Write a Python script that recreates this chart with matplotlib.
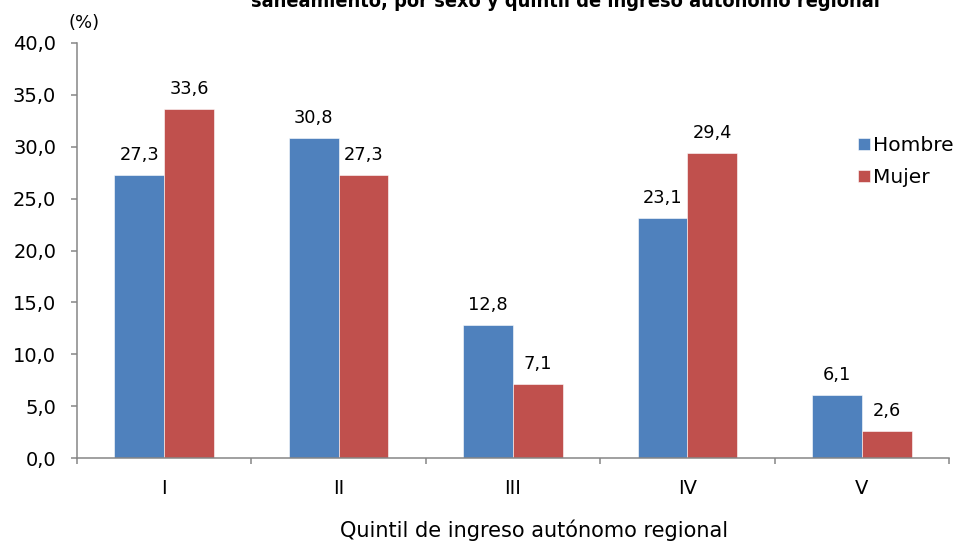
import numpy as np
import matplotlib.pyplot as plt

# datos del gráfico
quintiles = ['I', 'II', 'III', 'IV', 'V']
hombre = [27.3, 30.8, 12.8, 23.1, 6.1]
mujer = [33.6, 27.3, 7.1, 29.4, 2.6]
yticks = [0, 5, 10, 15, 20, 25, 30, 35, 40]

titulo = 'saneamiento, por sexo y quintil de ingreso autónomo regional'
xlabel = 'Quintil de ingreso autónomo regional'

c_h = '#4F81BD'
c_m = '#C0504D'
gris = '#868686'

fig = plt.figure(figsize=(9.6, 5.44), dpi=100)
ax = fig.add_axes([77 / 960, 1 - 458 / 544, 872 / 960, 415 / 544])

x = np.arange(len(quintiles)) + 0.5
w = 0.286
b1 = ax.bar(x - w / 2, hombre, w, color=c_h, edgecolor='white', linewidth=0.4, label='Hombre')
b2 = ax.bar(x + w / 2, mujer, w, color=c_m, edgecolor='white', linewidth=0.4, label='Mujer')

for bars, vals in ((b1, hombre), (b2, mujer)):
    for r, v in zip(bars, vals):
        ax.annotate(f'{v:.1f}'.replace('.', ','), (r.get_x() + r.get_width() / 2, v),
                    xytext=(0, 8), textcoords='offset points',
                    ha='center', va='bottom', fontsize=12.8)

ax.set_xlim(0, 5)
ax.set_ylim(0, 40)
ax.set_yticks(yticks)
ax.set_yticklabels([f'{v:.1f}'.replace('.', ',') for v in yticks], fontsize=14)
ax.set_xticks(x)
ax.set_xticklabels(quintiles, fontsize=14)
ax.set_xticks(np.arange(0, 6), minor=True)
ax.tick_params(axis='x', which='major', length=0, pad=15)
ax.tick_params(axis='x', which='minor', length=4, direction='out', color=gris, width=1.1)
ax.tick_params(axis='y', length=4, direction='out', color=gris, width=1.1, pad=11)

for s in ('top', 'right'):
    ax.spines[s].set_visible(False)
for s in ('left', 'bottom'):
    ax.spines[s].set_color(gris)
    ax.spines[s].set_linewidth(1.1)

ax.legend(loc='upper left', bbox_to_anchor=(858 / 960, 1 - 136 / 544),
          bbox_transform=fig.transFigure, frameon=False, fontsize=14.5,
          handlelength=0.6, handleheight=0.6, handletextpad=0.15,
          labelspacing=0.65, borderpad=0, borderaxespad=0)

fig.text(84 / 960, 1 - 23 / 544, '(%)', ha='center', va='center', fontsize=13)
fig.text(534 / 960, 1 - 530 / 544, xlabel, ha='center', va='center', fontsize=15)
fig.text(565 / 960, 1 - 7 / 544, titulo, ha='center', va='baseline',
         fontsize=14.3, fontweight='bold', fontstretch='condensed',
         family=['Liberation Sans Narrow', 'DejaVu Sans'])

fig.savefig('out.png', dpi=100)
